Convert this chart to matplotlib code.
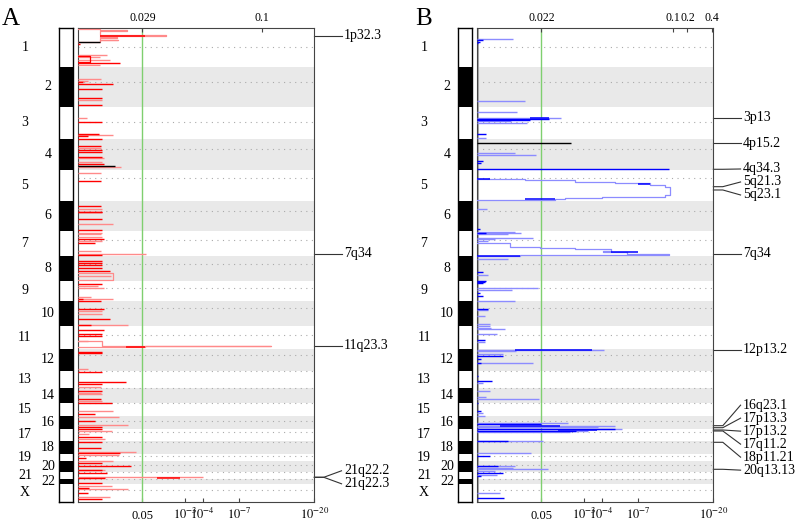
import numpy as np
import matplotlib
matplotlib.use("Agg")
import matplotlib.pyplot as plt
from matplotlib.patches import Rectangle
from matplotlib.transforms import blended_transform_factory

plt.rcParams['font.family'] = ['Liberation Serif', 'DejaVu Serif']
plt.rcParams['mathtext.fontset'] = 'stix'

# ---- genome layout (marker index units, chromosome 1 at top) ----
chroms = [str(i) for i in range(1, 23)] + ['X']
chrom_size = [39, 40, 32, 31, 31, 30, 25, 25, 20, 25, 23, 22, 17, 15, 13, 13, 12, 13, 7, 11, 7, 5, 18]
cen_frac = [0.50, 0.38, 0.46, 0.33, 0.26, 0.35, 0.37, 0.31, 0.35, 0.30, 0.39, 0.27,
            0.0, 0.0, 0.0, 0.40, 0.28, 0.10, 0.30, 0.39, 0.0, 0.0, 0.36]

q_thresh = 0.05
q_ticks = [0.05, 1e-3, 1e-4, 1e-7, 1e-20]
q_tick_labels = ['0.05', r'$10^{-3}$', r'$10^{-4}$', r'$10^{-7}$', r'$10^{-20}$']

# G-score ticks (top axis) and the -log10(q) they sit at
a_gscore = ['0.029', '0.1']
a_gscore_at = [1.301, 9.7]
b_gscore = ['0.022', '0.1', '0.2', '0.4']
b_gscore_at = [1.301, 11.55, 14.04, 19.6]

# ---- panel A: (position, -log10 q, tone 0=light 1=dark 2=black) ----
a_spikes = [
    (14.0, 0.34, 2), (16.3, 0.03, 1), (26.7, 0.45, 0), (29.0, 0.34, 0), (32.0, 0.51, 0),
    (35.3, 0.72, 1), (36.7, 0.34, 0),
    (51.3, 0.35, 0), (53.0, 0.14, 0), (54.0, 0.07, 1), (56.3, 0.57, 1), (61.3, 0.37, 1),
    (70.3, 0.37, 1), (72.0, 0.36, 0), (77.3, 0.37, 1),
    (90.3, 0.13, 0), (94.0, 0.37, 1), (106.7, 0.57, 0), (106.3, 0.31, 1), (108.0, 0.14, 1),
    (110.7, 0.37, 1),
    (118.0, 0.345, 1), (119.7, 0.345, 0), (122.3, 0.37, 1), (123.7, 0.37, 1), (129.0, 0.36, 1),
    (130.3, 0.40, 0), (134.0, 0.36, 0), (135.7, 0.40, 1), (139.0, 0.74, 0), (138.5, 0.62, 2),
    (145.3, 0.345, 0), (153.3, 0.345, 1),
    (178.0, 0.345, 1), (180.7, 0.36, 0), (183.7, 0.36, 1), (184.3, 0.36, 1), (191.3, 0.36, 1),
    (196.3, 0.57, 0), (202.0, 0.37, 1),
    (204.7, 0.36, 0), (206.3, 0.345, 0), (208.7, 0.36, 0), (211.3, 0.40, 1), (213.0, 0.36, 0),
    (214.7, 0.25, 1), (223.0, 0.345, 0), (225.7, 1.42, 0), (227.3, 0.37, 1),
    (233.0, 0.37, 1), (235.3, 0.37, 1), (237.3, 0.37, 1), (239.7, 0.37, 1), (243.0, 0.51, 1),
    (248.0, 0.54, 0),
    (256.3, 0.37, 1), (258.0, 0.30, 0), (259.7, 0.40, 0), (268.7, 0.18, 0), (271.3, 0.57, 0),
    (271.3, 0.07, 1), (273.0, 0.345, 1),
    (281.3, 0.40, 1), (283.0, 0.37, 0), (286.3, 0.36, 0), (291.3, 0.51, 1), (297.3, 0.90, 0),
    (297.3, 0.18, 1),
    (302.0, 0.41, 1), (306.3, 0.37, 1), (308.0, 0.37, 1), (313.0, 0.14, 0),
    (323.7, 0.36, 1), (324.7, 0.36, 1), (341.3, 0.14, 0),
    (344.0, 0.37, 1), (354.0, 0.86, 1), (356.3, 0.37, 1), (358.7, 0.345, 0),
    (363.0, 0.37, 1), (364.7, 0.345, 0), (366.3, 0.36, 0), (371.3, 0.345, 1), (373.0, 0.37, 0),
    (374.7, 0.56, 1),
    (383.0, 0.57, 0), (386.3, 0.25, 1),
    (388.7, 0.70, 0), (393.0, 0.25, 1), (397.3, 0.90, 0), (399.0, 0.37, 1),
    (401.3, 0.37, 1), (403.0, 0.55, 0), (406.3, 0.16, 0), (408.7, 0.37, 1), (411.3, 0.43, 0),
    (414.0, 0.37, 1), (419.7, 0.345, 1), (424.3, 1.11, 0), (424.7, 0.72, 1), (427.3, 0.70, 0),
    (429.7, 0.12, 1), (433.0, 0.57, 0),
    (434.7, 0.37, 1), (438.0, 0.98, 1), (442.0, 0.43, 0), (442.3, 0.37, 1),
    (444.7, 0.45, 1), (449.3, 4.04, 0), (450.3, 0.43, 1),
    (455.3, 0.37, 1),
    (458.0, 0.55, 0), (459.7, 0.15, 1), (461.3, 0.90, 0), (465.3, 0.14, 1), (468.7, 0.51, 0),
    (471.3, 0.37, 1),
]
# dark stretches inside a spike: (position, from, to)
a_overlay = [(7.7, 0.34, 1.37), (318.8, 0.86, 1.37), (449.6, 1.76, 2.72)]
# stepped regions: breakpoints and level after each breakpoint
a_env_pos = [[1.0, 2.5, 2.9, 7.5, 7.9, 9.3, 9.7, 11.8, 12.2, 14.0],
             [28.5, 34.0],
             [244.7, 251.7],
             [313.3, 317.7, 318.3, 319.3]]
a_env_q = [[0.34, 0.88, 0.34, 2.10, 0.34, 0.65, 0.34, 0.67, 0.34, 0],
           [0.167, 0],
           [0.57, 0],
           [0.374, 11.1, 1.37, 0]]
a_env_tone = [0, 1, 0, 0]
a_labels = ['1p32.3', '7q34', '11q23.3', '21q22.2', '21q22.3']
a_label_pos = [7.7, 225.7, 317.7, 449.3, 449.3]

# ---- panel B ----
b_spikes = [
    (11.3, 0.595, 0), (12.3, 0.084, 1), (13.7, 0.04, 1), (15.3, 0.017, 1),
    (73.0, 0.855, 0),
    (84.0, 0.688, 0), (89.7, 1.95, 0), (90.7, 1.53, 1), (92.0, 0.98, 1), (93.0, 0.563, 0),
    (95.3, 0.92, 0), (106.3, 0.133, 1), (110.3, 0.133, 0),
    (115.3, 2.35, 2), (124.7, 0.645, 0), (127.3, 1.15, 0), (133.0, 0.084, 1), (135.3, 0.053, 1),
    (141.3, 10.9, 1),
    (180.7, 0.147, 0),
    (201.3, 0.04, 1), (203.7, 0.645, 0), (205.3, 0.778, 0), (205.5, 0.133, 1), (206.3, 0.496, 0),
    (209.7, 1.06, 0), (211.3, 0.27, 0), (213.0, 0.157, 0),
    (230.7, 0.496, 0), (244.0, 0.084, 1), (247.3, 0.157, 0), (253.0, 0.133, 1),
    (254.0, 0.108, 1), (255.3, 0.084, 1), (259.7, 1.20, 0), (262.3, 0.575, 0), (264.7, 0.04, 1),
    (268.0, 0.084, 1),
    (273.0, 0.645, 0), (281.3, 0.157, 1), (281.7, 0.157, 0), (288.0, 0.108, 0), (296.3, 0.182, 0),
    (298.0, 0.182, 0), (299.7, 0.208, 0), (301.3, 0.447, 0), (306.3, 0.305, 0), (312.0, 0.108, 1),
    (313.7, 0.108, 0),
    (322.0, 4.13, 0), (323.0, 0.667, 0), (326.3, 0.403, 0), (328.0, 0.403, 1), (331.3, 0.053, 1),
    (334.7, 1.06, 0), (335.0, 0.062, 1),
    (348.0, 0.017, 1), (353.0, 0.21, 1), (354.7, 0.084, 0),
    (363.0, 0.182, 0), (368.7, 0.133, 0), (370.7, 1.22, 0), (374.7, 0.017, 1),
    (383.0, 0.062, 1), (385.3, 0.084, 0), (388.0, 0.108, 0),
    (395.3, 2.24, 0), (395.6, 1.30, 1), (397.7, 4.91, 0), (399.5, 3.76, 0), (400.8, 5.5, 0),
    (401.2, 4.91, 1), (403.0, 3.19, 0), (403.2, 2.61, 1), (404.3, 2.31, 0),
    (413.0, 1.34, 0), (413.2, 0.50, 1), (425.0, 1.02, 0),
    (428.0, 0.182, 1),
    (438.0, 0.63, 0), (438.2, 0.316, 1), (439.7, 0.60, 0), (441.3, 1.50, 0), (443.0, 0.27, 0),
    (445.3, 0.40, 1), (446.7, 0.30, 0), (448.3, 0.062, 1),
    (464.7, 0.345, 0), (470.3, 0.415, 1),
]
b_overlay = [(89.7, 0.98, 1.53), (322.2, 0.63, 3.39), (397.9, 0.345, 1.91), (402.0, 1.84, 3.68),
             (150.9, 0.0, 0.182), (155.6, 6.97, 8.27), (170.9, 0.855, 1.73),
             (224.5, 4.66, 7.0), (227.7, 0.0, 0.74)]
b_env_pos = [[150.7, 152.3, 154.0, 155.3, 157.3, 159.0, 167.3, 168.7, 169.7, 170.7, 172.0],
             [215.3, 218.7, 219.7, 221.0, 222.7, 224.3, 226.0, 227.5, 228.3]]
b_env_q = [[0.855, 2.53, 4.91, 8.27, 10.2, 11.0, 10.2, 3.98, 2.10, 1.73, 0],
           [0.53, 1.25, 2.53, 4.66, 4.05, 5.9, 10.8, 0.74, 0]]
b_env_tone = [0, 0]
b_labels = ['3p13', '4p15.2', '4q34.3', '5q21.3', '5q23.1', '7q34', '12p13.2',
            '16q23.1', '17p13.3', '17p13.2', '17q11.2', '18p11.21', '20q13.13']
b_label_pos = [89.7, 115.3, 141.3, 158.7, 162.0, 226.0, 322.0,
               397.7, 399.7, 402.0, 403.0, 414.3, 441.3]


def fwd(s):
    return np.log1p(np.clip(s, 0, None))


def inv(u):
    return np.expm1(u)


def spread(peaks, gap):
    p = np.asarray(peaks, float)
    order = np.argsort(p, kind='stable')
    ps = p[order]
    groups = [[k] for k in range(len(ps))]

    def place(g):
        return ps[g].mean() + (np.arange(len(g)) - (len(g) - 1) / 2) * gap

    merged = True
    while merged:
        merged = False
        for k in range(len(groups) - 1):
            if place(groups[k + 1])[0] - place(groups[k])[-1] < gap - 1e-9:
                groups[k] = groups[k] + groups[k + 1]
                del groups[k + 1]
                merged = True
                break
    out = np.empty(len(ps))
    for g in groups:
        out[g] = place(g)
    res = np.empty(len(p))
    res[order] = out
    return res


starts = np.concatenate([[0], np.cumsum(chrom_size)[:-1]])
total = float(np.sum(chrom_size))


def panel(fig, left, letter, spikes, overlay, env_pos, env_q, env_tone, labels, label_pos,
          gs, gs_at, light, dark, base_lw):
    bottom, height, width = 0.042, 0.9046, 0.2958
    ax = fig.add_axes([left, bottom, width, height])
    ax.set_xscale('function', functions=(fwd, inv))
    ax.set_xlim(0, 20)
    ax.set_ylim(total, 0)

    for i, (s, n) in enumerate(zip(starts, chrom_size)):
        if i % 2 == 1:
            ax.axhspan(s, s + n, color='#e9e9e9', lw=0, zorder=0)
    cen = starts + np.array(cen_frac) * np.array(chrom_size)
    ax.hlines(cen, 0, 20, colors='#aaaaaa', linestyles=(0, (1, 4)), lw=0.8, zorder=1)
    ax.axvline(0, color='#aaaaaa', lw=base_lw, zorder=2)
    ax.axvline(-np.log10(q_thresh), color='#7fcf6f', lw=1, zorder=2)

    tone_col = [light, dark, 'black']
    for tone in (0, 1, 2):
        pts = [(p, q) for p, q, t in spikes if t == tone]
        if pts:
            pp, qq = zip(*pts)
            ax.hlines(pp, 0, qq, colors=tone_col[tone], lw=1.0, zorder=3 + tone)
    for pos, lev, tone in zip(env_pos, env_q, env_tone):
        xs, ys = [0.0], [pos[0]]
        for i in range(len(pos)):
            xs.append(lev[i]); ys.append(pos[i])
            if i + 1 < len(pos):
                xs.append(lev[i]); ys.append(pos[i + 1])
        ax.plot(xs, ys, color=tone_col[tone], lw=0.9, zorder=3 + tone)
    for p, lo, hi in overlay:
        ax.hlines(p, lo, hi, colors=dark, lw=1.1, zorder=4)

    ax.set_yticks([])
    ax.set_xticks(-np.log10(q_ticks))
    ax.set_xticklabels(q_tick_labels, va='baseline', fontsize=9)
    ax.tick_params(axis='x', direction='in', length=3, pad=12.5, color='#444444')
    for sp in ax.spines.values():
        sp.set_color('#444444')
        sp.set_linewidth(0.8)

    ax2 = ax.twiny()
    ax2.set_xscale('function', functions=(fwd, inv))
    ax2.set_xlim(0, 20)
    ax2.set_xticks(gs_at)
    ax2.set_xticklabels(gs, fontsize=8.5)
    ax2.tick_params(axis='x', direction='in', length=3, pad=3, color='#444444')
    for sp in ax2.spines.values():
        sp.set_visible(False)

    # chromosome ideogram
    ia = fig.add_axes([left - 0.0230, bottom, 0.0175, height])
    ia.set_xlim(0, 1)
    ia.set_ylim(total, 0)
    itr = blended_transform_factory(ia.transAxes, ia.transData)
    for i, (s, n) in enumerate(zip(starts, chrom_size)):
        if i % 2 == 1:
            ia.add_patch(Rectangle((0, s), 1, n, color='black', lw=0))
        ia.text(-2.45 if i % 2 == 0 else -0.8, s + n / 2, chroms[i], transform=itr,
                ha='center', va='center', fontsize=10)
    ia.set_xticks([])
    ia.set_yticks([])
    for sp in ia.spines.values():
        sp.set_color('black')
        sp.set_linewidth(1)

    # peak labels on the right
    tr = blended_transform_factory(ax.transAxes, ax.transData)
    ty = spread(label_pos, 13)
    for name, p, t in zip(labels, label_pos, ty):
        ax.plot([1.0, 1.04, 1.115], [p, p, t], color='#333333', lw=0.8,
                transform=tr, clip_on=False)
        ax.text(1.125, t, name, transform=tr, ha='left', va='center', fontsize=10)

    fig.text(left - 0.095 if letter == 'A' else left - 0.0765, 0.985, letter,
             fontsize=18, va='top', ha='left')
    return ax


fig = plt.figure(figsize=(8, 5.24), dpi=100)
panel(fig, 0.0971, 'A', a_spikes, a_overlay, a_env_pos, a_env_q, a_env_tone,
      a_labels, a_label_pos, a_gscore, a_gscore_at, '#ff8a8a', '#ff0000', 1.2)
panel(fig, 0.5959, 'B', b_spikes, b_overlay, b_env_pos, b_env_q, b_env_tone,
      b_labels, b_label_pos, b_gscore, b_gscore_at, '#8c8cff', '#0000ff', 2.2)
fig.savefig('out.png', dpi=100)
